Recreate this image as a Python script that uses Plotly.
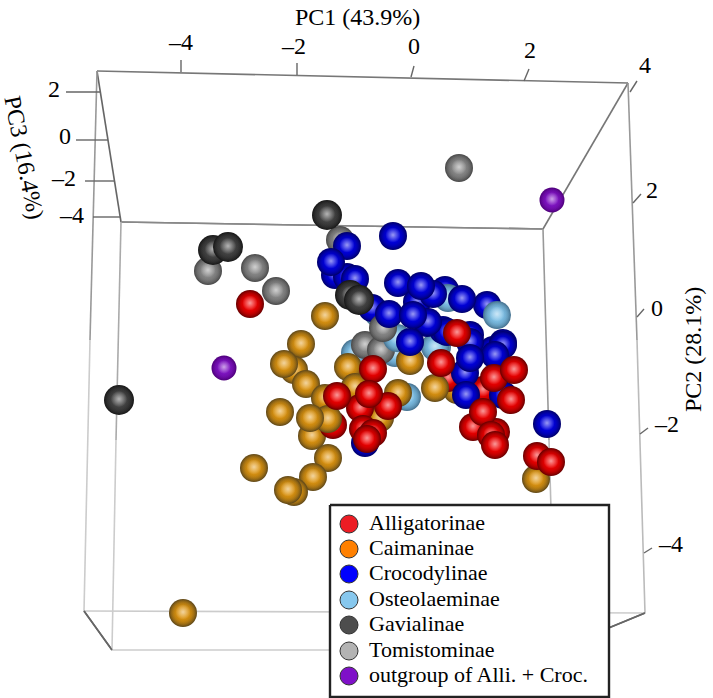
import plotly.graph_objects as go

# Each group: picture position (x, y), depth rank (higher = nearer the viewer)
alli_x = [250,457,441,514,494,483,448,511,483,473,496,491,495,537,551,373,337,369,360,388,333,363,373,367]
alli_y = [304,333,363,370,378,390,378,400,412,427,432,435,445,456,462,369,396,394,408,406,425,429,433,439]
alli_z = [50,90,70,62,60,30,40,72,75,65,66,78,80,70,72,72,70,80,68,76,40,70,72,85]

caim_x = [325,301,284,294,306,325,280,310,328,312,328,254,313,288,294,348,355,398,380,410,435,457,536,183]
caim_y = [316,344,364,370,384,398,412,418,419,436,458,468,477,490,492,367,387,393,418,361,388,390,479,613]
caim_z = [20,30,33,31,35,38,30,44,42,36,30,30,30,34,32,30,32,55,30,28,45,25,40,40]

croc_x = [393,347,331,335,355,347,398,421,433,445,462,487,389,413,428,417,410,372,447,427,443,470,495,503,470,465,466,503,547,470,503,493,365]
croc_y = [236,246,262,275,279,277,283,286,294,290,299,305,314,315,322,302,342,308,332,323,330,358,355,345,342,373,395,395,424,335,343,350,443]
croc_z = [30,30,31,22,24,23,32,33,28,20,34,29,40,42,41,25,48,20,39,36,30,60,58,50,48,52,68,55,60,40,45,44,10]

oste_x = [497,448,355,437,407,378,397,435,395]
oste_y = [315,298,353,347,397,313,338,347,353]
oste_z = [35,27,8,18,15,10,16,20,12]

gavi_x = [327,213,228,119,350,359]
gavi_y = [215,250,247,400,295,300]
gavi_z = [30,10,12,30,26,27]

tomi_x = [459,208,255,276,340,383,365,381]
tomi_y = [168,271,268,291,240,328,345,350]
tomi_z = [30,5,10,10,5,26,13,14]

outg_x = [552,224]
outg_y = [200,368]
outg_z = [30,30]

# Group styling: rim colour, body colour, sphere diameter
groups = [
    (alli_x, alli_y, alli_z, "rgb(110,0,0)", "rgb(240,0,0)", 28),
    (caim_x, caim_y, caim_z, "rgb(100,75,25)", "rgb(222,148,14)", 28),
    (croc_x, croc_y, croc_z, "rgb(0,0,110)", "rgb(0,0,226)", 28),
    (oste_x, oste_y, oste_z, "rgb(70,115,145)", "rgb(128,194,232)", 28),
    (gavi_x, gavi_y, gavi_z, "rgb(25,25,25)", "rgb(70,70,70)", 30),
    (tomi_x, tomi_y, tomi_z, "rgb(75,75,75)", "rgb(138,138,138)", 28),
    (outg_x, outg_y, outg_z, "rgb(80,0,125)", "rgb(128,20,196)", 25),
]

# Box edges: start x, start y, end x, end y, colour
edge_x0 = [97,628,97,543,121,97,90,628,637,84,84,645,121,116,543,549,112,84,645]
edge_y0 = [71,83,71,229,222,71,340,83,340,611,611,613,222,440,229,440,650,611,613]
edge_x1 = [628,543,121,121,543,90,84,637,645,645,112,555,116,112,549,555,555,112,555]
edge_y1 = [83,229,222,222,229,340,611,340,613,613,650,650,440,650,440,650,650,650,650]
edge_c = ["#777","#777","#666","#888","#888","#999","#ccc","#999","#bbb","#ccc","#666","#666","#aaa","#ccc","#999","#bbb","#ccc","#666","#666"]

tick_x0 = [181,297,411,524,630,633,637,640,644,66,76,85,93]
tick_y0 = [72,75,77,81,92,203,317,434,553,92,140,181,217]
tick_x1 = [181,297,414,529,637,641,644,648,652,100,108,114,120]
tick_y1 = [60,63,66,69,81,194,309,428,548,92,140,181,217]

label_text = ["–4","–2","0","2","4","2","0","–2","–4","2","0","–2","–4"]
label_x = [181,294,414,530,645,652,657,667,671,54,65,64,72]
label_y = [44,48,48,52,67,192,310,426,546,91,138,180,217]

legend_names = ["Alligatorinae","Caimaninae","Crocodylinae","Osteolaeminae","Gavialinae","Tomistominae","outgroup of Alli. + Croc."]
legend_colors = ["#ed1c24","#ff8000","#0000ff","#87c8ee","#4d4d4d","#b3b3b3","#7f10c8"]
legend_y = [524,549,574,600,625,651,676]
legend_marker_x = [349]*7
legend_text_x = [369]*7
legend_box_x = [330,609,609,330,330]
legend_box_y = [505,505,697,697,505]

SERIF = "Liberation Serif"
fig = go.Figure()

for x0,y0,x1,y1,c in zip(edge_x0,edge_y0,edge_x1,edge_y1,edge_c):
    fig.add_trace(go.Scatter(x=[x0,x1],y=[y0,y1],mode="lines",line=dict(color=c,width=1.6),hoverinfo="skip"))
for x0,y0,x1,y1 in zip(tick_x0,tick_y0,tick_x1,tick_y1):
    fig.add_trace(go.Scatter(x=[x0,x1],y=[y0,y1],mode="lines",line=dict(color="#666",width=1.4),hoverinfo="skip"))

# Spheres, painted back to front; each is rim, two body layers and highlight
spheres = []
for xs,ys,zs,rim,body,d in groups:
    for x,y,z in zip(xs,ys,zs):
        spheres.append((z,x,y,rim,body,d))
spheres.sort(key=lambda s:s[0])

def alpha(rgb,a):
    return rgb.replace("rgb(","rgba(").replace(")",f",{a})")

px,py,ps,pc,pg = [],[],[],[],[]
for z,x,y,rim,body,d in spheres:
    px += [x,x,x,x]
    py += [y,y,y,y-1]
    ps += [d,d*0.96,d*0.96,d*0.55]
    pc += [rim,alpha(body,0),alpha(body,0),"rgba(255,255,255,0)"]
    pg += [body,body,body,"rgba(255,255,255,0.6)"]
fig.add_trace(go.Scatter(x=px,y=py,mode="markers",hoverinfo="skip",
    marker=dict(size=ps,color=pc,opacity=1,line=dict(width=0),
                gradient=dict(type="radial",color=pg))))

fig.add_trace(go.Scatter(x=legend_box_x,y=legend_box_y,mode="lines",fill="toself",fillcolor="white",
    line=dict(color="#222",width=2.4),hoverinfo="skip"))
fig.add_trace(go.Scatter(x=legend_marker_x,y=legend_y,mode="markers",hoverinfo="skip",
    marker=dict(size=18,color=legend_colors,line=dict(color="#333",width=1))))
fig.add_trace(go.Scatter(x=legend_text_x,y=legend_y,mode="text",text=legend_names,textposition="middle right",
    textfont=dict(family=SERIF,size=22,color="black"),hoverinfo="skip"))
fig.add_trace(go.Scatter(x=label_x,y=label_y,mode="text",text=label_text,textposition="middle center",
    textfont=dict(family=SERIF,size=24,color="black"),hoverinfo="skip"))

fig.update_layout(
    width=713,height=698,margin=dict(l=0,r=0,t=0,b=0),
    paper_bgcolor="white",plot_bgcolor="white",showlegend=False,
    xaxis=dict(range=[0,713],visible=False),
    yaxis=dict(range=[698,0],visible=False),
    annotations=[
        dict(text="PC1 (43.9%)",x=357,y=17,xref="x",yref="y",showarrow=False,font=dict(family=SERIF,size=24,color="black")),
        dict(text="PC2 (28.1%)",x=693,y=350,xref="x",yref="y",textangle=-90,showarrow=False,font=dict(family=SERIF,size=24,color="black")),
        dict(text="PC3 (16.4%)",x=24,y=157,xref="x",yref="y",textangle=79,showarrow=False,font=dict(family=SERIF,size=24,color="black")),
    ])
fig.write_html("out.html",post_script="document.body.style.margin='0';",config=dict(displayModeBar=False))
